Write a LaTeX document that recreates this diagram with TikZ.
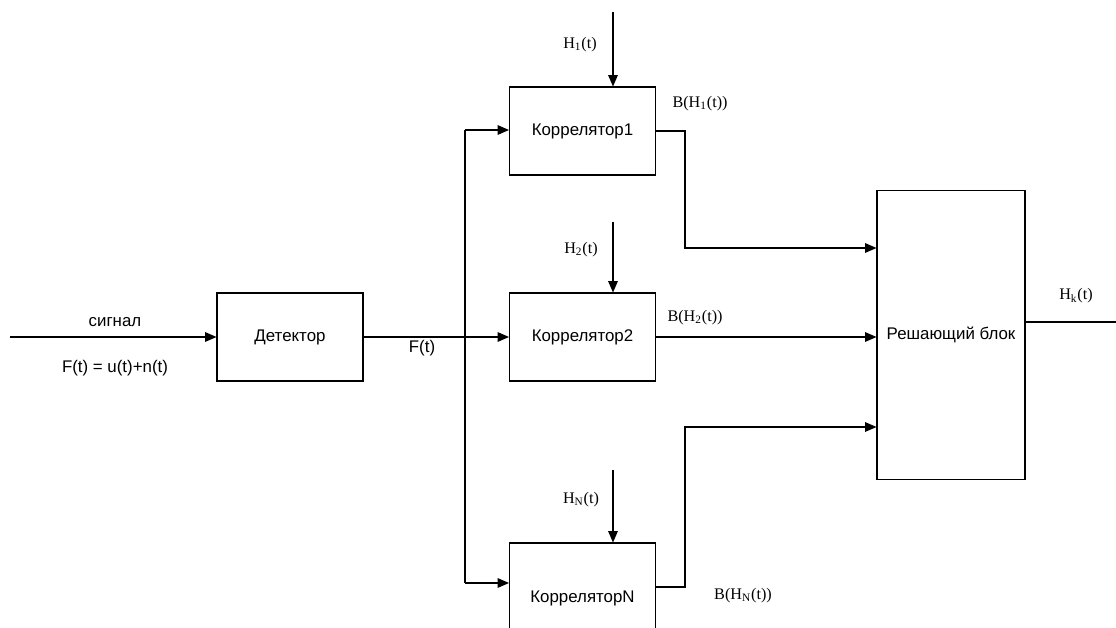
\documentclass[tikz,border=0pt]{standalone}
\usepackage{fontspec}
\setmainfont{Liberation Serif}
\setsansfont{Liberation Sans}
\usepackage{tikz}
\usetikzlibrary{positioning,calc,arrows.meta}

\tikzset{
	blok/.style={draw, rectangle, line width=0.6pt, minimum width=2.92cm, minimum height=1.76cm, inner sep=0pt, font=\sffamily\fontsize{9.6}{11}\selectfont},
	arr/.style={line width=0.6pt, -{Triangle[length=6.5pt,width=5.5pt]}},
	wire/.style={line width=0.6pt},
	lbl/.style={draw=none, inner sep=0pt, font=\fontsize{9.2}{11}\selectfont},
	slbl/.style={draw=none, inner sep=0pt, font=\sffamily\fontsize{9.6}{11}\selectfont}
}

\begin{document}
\begin{tikzpicture}[x=0.02cm, y=-0.02cm]
	\useasboundingbox (0,0) rectangle (1116,628);
	\node [blok] (Det) at (290,337) {Детектор};
	\node [blok] (K1) at (582.5,131) {Коррелятор1};
	\node [blok] (K2) at (582.5,337) {Коррелятор2};
	\node [blok, minimum height=2.2cm] (KN) at (582.5,598) {Коррелятор{}N};
	\node [blok, minimum width=2.96cm, minimum height=5.8cm] (Rb) at (951,335) {Решающий блок};

	\coordinate (in) at (10,337);
	\coordinate (busT) at (465,130);
	\coordinate (busB) at (465,583);
	\coordinate (h1) at (613,12);
	\coordinate (h2) at (613,222);
	\coordinate (hN) at (613,470);
	\coordinate (out) at (1116,322);

	\node [slbl] (sig) at (115,322) {сигнал};
	\node [slbl] (Fu) at (115,368) {F(t) = u(t)+n(t)};
	\node [slbl] (Ft) at (422,348) {F(t)};
	\node [lbl] (H1l) at (580,45) {H\textsubscript{1}(t)};
	\node [lbl] (H2l) at (581,250) {H\textsubscript{2}(t)};
	\node [lbl] (HNl) at (581,500) {H\textsubscript{N}(t)};
	\node [lbl] (B1l) at (700,104) {B(H\textsubscript{1}(t))};
	\node [lbl] (B2l) at (695,318) {B(H\textsubscript{2}(t))};
	\node [lbl] (BNl) at (743,596) {B(H\textsubscript{N}(t))};
	\node [lbl] (Hkl) at (1076,296) {H\textsubscript{k}(t)};

	\draw [arr] (in) -- (Det);
	\draw [arr] (Det) -- (K2);
	\draw [wire] (busT) -- (busB);
	\draw [arr] (busT) -- (busT -| K1.west);
	\draw [arr] (busB) -- (busB -| KN.west);
	\draw [arr] (h1) -- (h1 |- K1.north);
	\draw [arr] (h2) -- (h2 |- K2.north);
	\draw [arr] (hN) -- (hN |- KN.north);
	\draw [arr] (K1.east) -| (685,248) -- (Rb.west |- 0,248);
	\draw [arr] (K2) -- (Rb.west |- K2);
	\draw [arr] (KN.east |- 0,587) -| (685,427) -- (Rb.west |- 0,427);
	\draw [wire] (Rb.east |- out) -- (out);
\end{tikzpicture}
\end{document}
